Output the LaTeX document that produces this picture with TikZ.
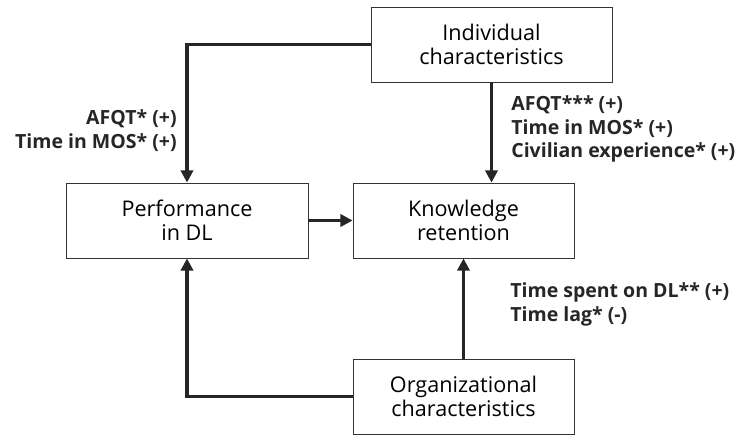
\documentclass[tikz,border=0pt]{standalone}
\usepackage{fontspec}
\setmainfont{Open Sans}
\usetikzlibrary{arrows.meta}

\begin{document}
\begin{tikzpicture}[x=0.02cm, y=-0.02cm,
    box/.style={draw=black!80, line width=0.5pt, align=center, inner sep=0pt,
        minimum height=1.5cm, font=\fontsize{12.3}{13.8}\selectfont},
    arr/.style={-{Triangle[length=7pt, width=7pt]}, line width=2.2pt, black!85},
    lbl/.style={font=\fontsize{11.1}{13.6}\selectfont\bfseries, inner sep=0pt, black!85}]
    \useasboundingbox (0,0) rectangle (743,436);

    % Boxes
    \node[box, minimum width=4.82cm] (ind) at (491.5, 44.5) {Individual\\characteristics};
    \node[box, minimum width=4.84cm] (perf) at (187, 220.5) {Performance\\in DL};
    \node[box, minimum width=4.42cm] (know) at (463.5, 220.5) {Knowledge\\retention};
    \node[box, minimum width=4.42cm] (org) at (463.5, 396.5) {Organizational\\characteristics};

    % Arrows
    \draw[arr] (ind.west) -- (perf.north |- ind.west) -- (perf.north);
    \draw[arr] (ind.south) -- (ind.south |- know.north);
    \draw[arr] (perf.east) -- (know.west);
    \draw[arr] (org.north) -- (know.south);
    \draw[arr] (org.west) -- (perf.south |- org.west) -- (perf.south);

    % Labels
    \node[lbl, anchor=east, align=right] (lblperf) at (177, 131) {AFQT* (+)\\Time in MOS* (+)};
    \node[lbl, anchor=west, align=left] (lblind) at (511, 129) {AFQT*** (+)\\Time in MOS* (+)\\Civilian experience* (+)};
    \node[lbl, anchor=west, align=left] (lblorg) at (510, 304) {Time spent on DL** (+)\\Time lag* (-)};
\end{tikzpicture}
\end{document}
